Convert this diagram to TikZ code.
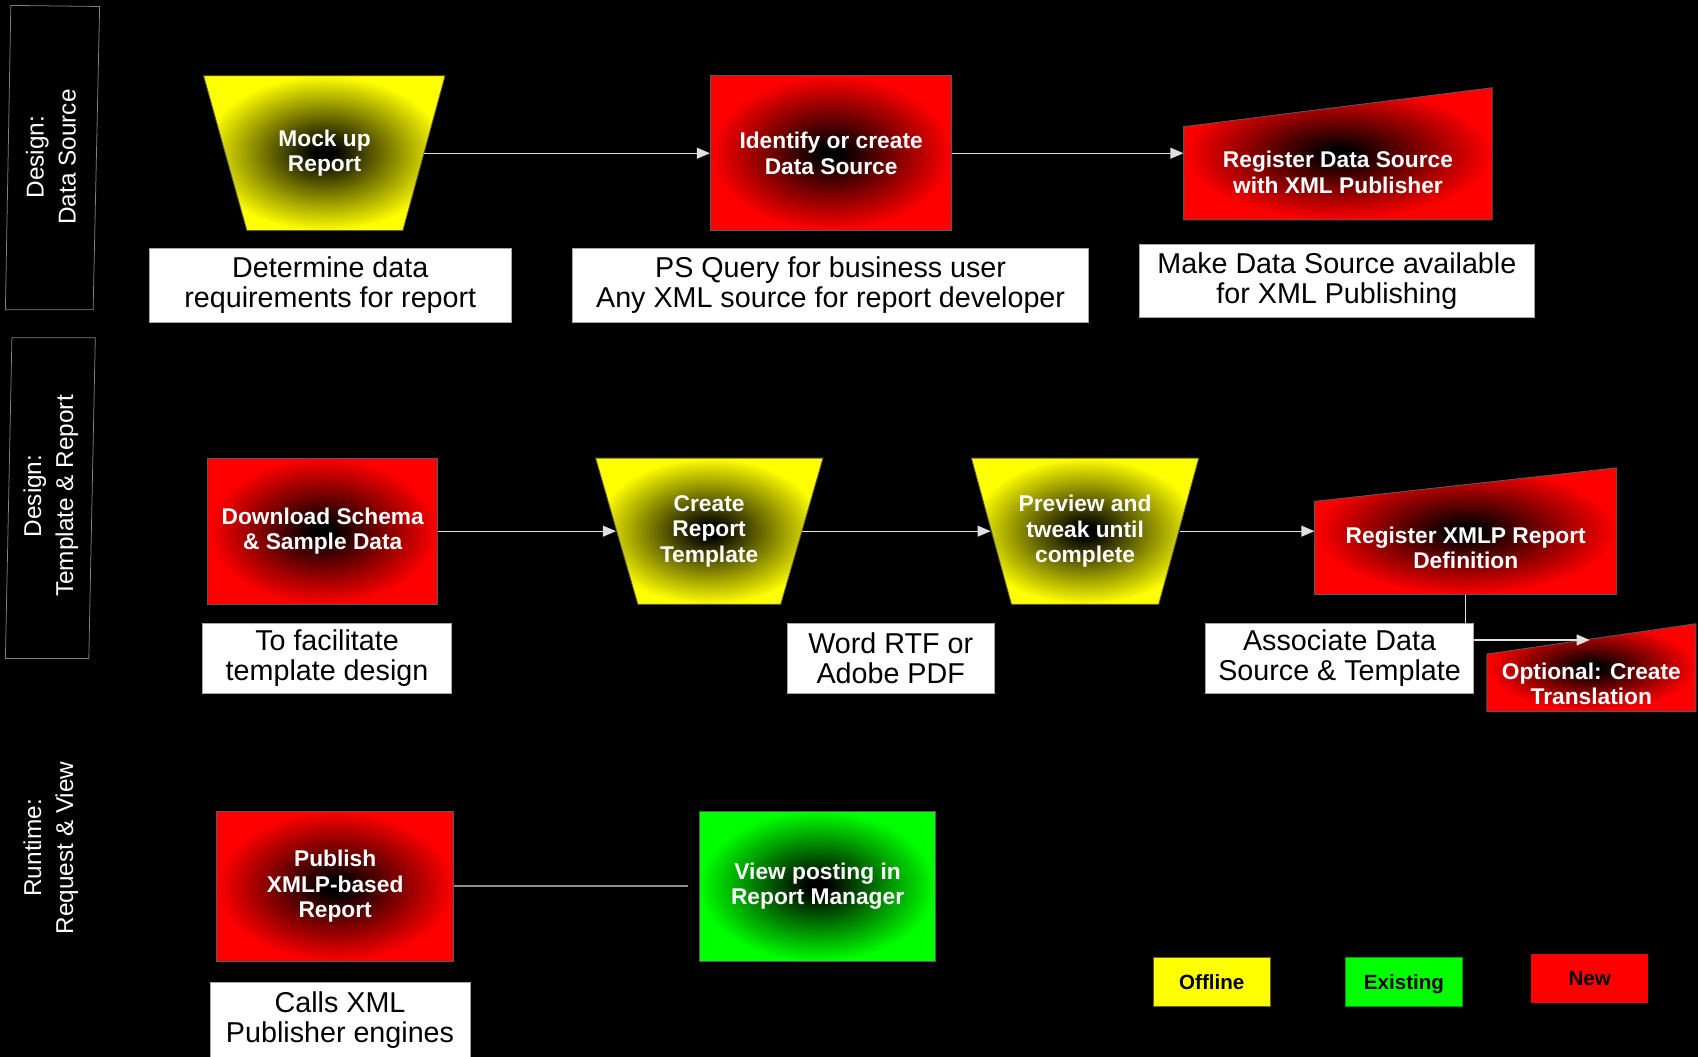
\documentclass[tikz,border=0pt]{standalone}
\usepackage{fontspec}
\setmainfont{Liberation Sans}
\usetikzlibrary{arrows.meta,calc}
\definecolor{cRed}{RGB}{255,0,0}
\definecolor{cYel}{RGB}{255,255,0}
\definecolor{cGrn}{RGB}{0,255,0}
\pgfdeclareradialshading{radred}{\pgfpoint{0bp}{0bp}}{color(0bp)=(black); color(2bp)=(black); color(25bp)=(cRed); color(50bp)=(cRed)}
\pgfdeclareradialshading{radyel}{\pgfpoint{0bp}{0bp}}{color(0bp)=(black); color(2bp)=(black); color(25bp)=(cYel); color(50bp)=(cYel)}
\pgfdeclareradialshading{radgrn}{\pgfpoint{0bp}{0bp}}{color(0bp)=(black); color(2bp)=(black); color(25bp)=(cGrn); color(50bp)=(cGrn)}
\tikzset{
  lanebox/.style={draw=black!50, line width=0.7pt},
  lanetext/.style={text=white, rotate=90, align=center, font=\fontsize{22.5}{29.5}\selectfont},
  ntext/.style={text=white, align=center, inner sep=0pt, font=\bfseries\fontsize{21}{23.5}\selectfont},
  edge/.style={draw=black!65, line width=0.8pt},
  redbox/.style={ntext, shade, shading=radred, edge},
  grnbox/.style={ntext, shade, shading=radgrn, edge},
  wbox/.style={fill=white, draw=black!35, line width=0.7pt, align=center, inner sep=0pt, text=black, font=\fontsize{26.5}{28}\selectfont},
  legbox/.style={inner sep=0pt, text=black, font=\bfseries\fontsize{19}{22}\selectfont, minimum width=108pt, minimum height=45pt, text height=14pt, text depth=0pt},
  conn/.style={draw=white!88!black, line width=1.1pt, -{Triangle[length=12pt,width=10pt]}},
  plainconn/.style={draw=white!55!black, line width=1.8pt},
}
\begin{document}
\begin{tikzpicture}[x=1pt,y=-1pt]
\fill[black] (0,0) rectangle (1568,976);
\useasboundingbox (0,0) rectangle (1568,976);

% lanes
\draw[lanebox] (10,5) -- (92,6) -- (86,286) -- (5,286) -- cycle;
\draw[lanebox] (11,312) -- (88,312) -- (82,608) -- (5,608) -- cycle;
\node[lanetext] (lane1) at (47,145) {Design:\\Data Source};
\node[lanetext] (lane2) at (47,458) {Design:\\Template \& Report};
\node[lanetext] (lane3) at (47,783) {Runtime:\\Request \& View};

% ---------- row 1 ----------
\shade[shading=radyel] (188,70) -- (411,70) -- (372,213) -- (228,213) -- cycle;
\draw[edge] (188,70) -- (411,70) -- (372,213) -- (228,213) -- cycle;
\node[ntext, minimum width=183.5pt, minimum height=143pt] (mock) at (299.75,141.5) {Mock up\\Report};

\node[redbox, minimum width=223pt, minimum height=143pt] (ident) at (767.5,141.5) {Identify or create\\Data Source};

\shade[shading=radred] (1093,117) -- (1378,81) -- (1378,203) -- (1093,203) -- cycle;
\draw[edge] (1093,117) -- (1378,81) -- (1378,203) -- (1093,203) -- cycle;
\node[ntext, minimum width=285pt, minimum height=86pt] (regds) at (1235.5,159) {Register Data Source\\with XML Publisher};

\draw[conn] (mock.east) -- (ident.west);
\draw[conn] (ident.east) -- (ident.east -| regds.west);

\node[wbox, minimum width=334pt, minimum height=68pt] (n1) at (305,263.5) {Determine data\\requirements for report};
\node[wbox, minimum width=476pt, minimum height=68pt] (n2) at (767,263.5) {PS Query for business user\\Any XML source for report developer};
\node[wbox, minimum width=365pt, minimum height=68pt] (n3) at (1234.5,259.5) {Make Data Source available\\for XML Publishing};

% ---------- row 2 ----------
\node[redbox, minimum width=212pt, minimum height=135pt] (down) at (298,490.5) {Download Schema\\\& Sample Data};

\shade[shading=radyel] (550,423) -- (760,423) -- (721,558) -- (589,558) -- cycle;
\draw[edge] (550,423) -- (760,423) -- (721,558) -- (589,558) -- cycle;
\node[ntext, minimum width=171.6pt, minimum height=135pt] (create) at (654.8,490.5) {Create\\Report\\Template};

\shade[shading=radyel] (897,423) -- (1107,423) -- (1070,558) -- (934,558) -- cycle;
\draw[edge] (897,423) -- (1107,423) -- (1070,558) -- (934,558) -- cycle;
\node[ntext, minimum width=174pt, minimum height=135pt] (prev) at (1002,490.5) {Preview and\\tweak until\\complete};

\shade[shading=radred] (1214,463) -- (1493,432) -- (1493,549) -- (1214,549) -- cycle;
\draw[edge] (1214,463) -- (1493,432) -- (1493,549) -- (1214,549) -- cycle;
\node[ntext, minimum width=279pt, minimum height=86pt] (regx) at (1353.5,506) {Register XMLP Report\\Definition};

\shade[shading=radred] (1373,604) -- (1566,576) -- (1566,657) -- (1373,657) -- cycle;
\draw[edge] (1373,604) -- (1566,576) -- (1566,657) -- (1373,657) -- cycle;
\node[ntext, minimum width=193pt, minimum height=53pt] (opt) at (1469.5,631.5) {Optional: Create\\Translation};
\coordinate (optin) at (1468,591);

\draw[conn] (down.east) -- (create.west);
\draw[conn] (create.east) -- (prev.west);
\draw[conn] (prev.east) -- (prev.east -| regx.west);
\draw[conn] (regx.south) |- (optin);

\node[wbox, minimum width=230pt, minimum height=65pt] (n4) at (302,608) {To facilitate\\template design};
\node[wbox, minimum width=191pt, minimum height=65pt] (n5) at (822.5,608) {Word RTF or\\Adobe PDF};
\node[wbox, minimum width=248pt, minimum height=65pt] (n6) at (1237,608) {Associate Data\\Source \& Template};

% ---------- row 3 ----------
\node[redbox, minimum width=219pt, minimum height=139pt] (pub) at (309.5,818.5) {Publish\\XMLP-based\\Report};
\node[grnbox, minimum width=218pt, minimum height=139pt] (view) at (755,818.5) {View posting in\\Report Manager};
\coordinate (pubend) at (635,818.5);
\draw[plainconn] (pub.east) -- (pubend);

\node[wbox, minimum width=240pt, minimum height=69pt] (n7) at (314,942) {Calls XML\\Publisher engines};

% ---------- legend ----------
\node[legbox, fill=cYel, draw=black!60!cYel, line width=0.8pt] (lgoff) at (1119,906.5) {Offline};
\node[legbox, fill=cGrn, draw=black!40!cGrn, line width=0.8pt] (lgex) at (1296.5,906.5) {Existing};
\node[legbox, fill=cRed] (lgnew) at (1468,903.5) {New};
\end{tikzpicture}
\end{document}
